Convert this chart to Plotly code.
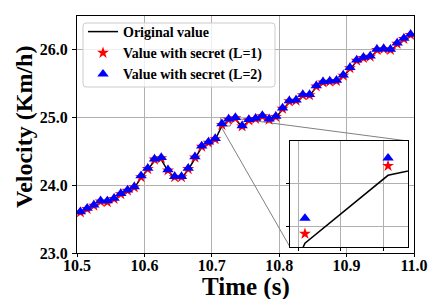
import plotly.graph_objects as go

# ---------------- data ----------------
TIME = [10.505, 10.515, 10.525, 10.535, 10.545, 10.555, 10.565, 10.575, 10.585, 10.595,
        10.605, 10.615, 10.625, 10.635, 10.645, 10.655, 10.665, 10.675, 10.685, 10.695,
        10.705, 10.715, 10.725, 10.735, 10.745, 10.755, 10.765, 10.775, 10.785, 10.795,
        10.805, 10.815, 10.825, 10.835, 10.845, 10.855, 10.865, 10.875, 10.885, 10.895,
        10.905, 10.915, 10.925, 10.935, 10.945, 10.955, 10.965, 10.975, 10.985, 10.995]

ORIGINAL = [23.59, 23.64, 23.68, 23.75, 23.74, 23.79, 23.86, 23.90, 23.96, 24.11,
            24.23, 24.36, 24.38, 24.21, 24.11, 24.10, 24.23, 24.39, 24.56, 24.61,
            24.67, 24.880, 24.959, 24.98, 24.86, 24.95, 24.97, 25.00, 24.96, 25.00,
            25.12, 25.22, 25.24, 25.31, 25.32, 25.45, 25.50, 25.52, 25.52, 25.61,
            25.71, 25.83, 25.86, 25.89, 25.98, 26.00, 25.99, 26.07, 26.15, 26.20]

SECRET_L1 = [23.60, 23.65, 23.70, 23.76, 23.75, 23.80, 23.87, 23.92, 23.97, 24.12,
             24.24, 24.38, 24.40, 24.22, 24.12, 24.12, 24.24, 24.41, 24.57, 24.63,
             24.68, 24.891, 24.970, 24.99, 24.87, 24.96, 24.98, 25.02, 24.97, 25.01,
             25.13, 25.24, 25.25, 25.33, 25.33, 25.46, 25.52, 25.53, 25.54, 25.62,
             25.73, 25.84, 25.88, 25.90, 26.00, 26.01, 26.00, 26.09, 26.16, 26.22]

SECRET_L2 = [23.61, 23.66, 23.71, 23.77, 23.77, 23.81, 23.88, 23.93, 23.98, 24.14,
             24.25, 24.39, 24.41, 24.23, 24.13, 24.13, 24.25, 24.42, 24.58, 24.64,
             24.69, 24.909, 24.979, 25.00, 24.88, 24.97, 24.99, 25.03, 24.98, 25.02,
             25.14, 25.25, 25.26, 25.34, 25.34, 25.47, 25.53, 25.54, 25.55, 25.63,
             25.74, 25.85, 25.89, 25.91, 26.01, 26.02, 26.01, 26.10, 26.17, 26.23]

X_TICKS = [10.5, 10.6, 10.7, 10.8, 10.9, 11.0]
Y_TICKS = [23.0, 24.0, 25.0, 26.0]
X_RANGE = [10.5, 11.0]
Y_RANGE = [23.0, 26.5]
INSET_X = [10.7132, 10.7274]
INSET_Y = [24.8756, 24.9989]

NAMES = ["Original value", "Value with secret (L=1)", "Value with secret (L=2)"]

# ---------------- layout helpers ----------------
W, H = 443, 299
L, R, T, B = 77, 414, 16, 253
PW, PH = R - L, B - T


def fx(px):
    return (px - L) / PW


def fy(py):
    return (B - py) / PH


INSET_DOM_X = [fx(290), fx(408)]
INSET_DOM_Y = [fy(247), fy(141)]


def mx(frac):
    return X_RANGE[0] + frac * (X_RANGE[1] - X_RANGE[0])


def my(frac):
    return Y_RANGE[0] + frac * (Y_RANGE[1] - Y_RANGE[0])


def rounded_box(x0, y0, x1, y1, r):
    """SVG path (paper coords) for a rounded rectangle given in pixels."""
    pts = [
        f"M {fx(x0 + r)},{fy(y0)}",
        f"L {fx(x1 - r)},{fy(y0)}",
        f"Q {fx(x1)},{fy(y0)} {fx(x1)},{fy(y0 + r)}",
        f"L {fx(x1)},{fy(y1 - r)}",
        f"Q {fx(x1)},{fy(y1)} {fx(x1 - r)},{fy(y1)}",
        f"L {fx(x0 + r)},{fy(y1)}",
        f"Q {fx(x0)},{fy(y1)} {fx(x0)},{fy(y1 - r)}",
        f"L {fx(x0)},{fy(y0 + r)}",
        f"Q {fx(x0)},{fy(y0)} {fx(x0 + r)},{fy(y0)}",
        "Z",
    ]
    return " ".join(pts)


FONT = "Liberation Serif, Times New Roman, serif"
GRID = "#b0b0b0"

fig = go.Figure()

for xa, ya, show in (("x", "y", True), ("x2", "y2", False)):
    fig.add_trace(go.Scatter(x=TIME, y=ORIGINAL, mode="lines", name=NAMES[0],
                             line=dict(color="black", width=1.5),
                             xaxis=xa, yaxis=ya, showlegend=show))
    fig.add_trace(go.Scatter(x=TIME, y=SECRET_L1, mode="markers", name=NAMES[1],
                             marker=dict(symbol="star", size=9, color="red",
                                         line=dict(width=0)),
                             xaxis=xa, yaxis=ya, showlegend=show))
    fig.add_trace(go.Scatter(x=TIME, y=SECRET_L2, mode="markers", name=NAMES[2],
                             marker=dict(symbol="triangle-up", size=10, color="blue",
                                         line=dict(width=0)),
                             xaxis=xa, yaxis=ya, showlegend=show))

shapes = [
    dict(type="rect", xref="x", yref="y", layer="between",
         x0=mx(INSET_DOM_X[0]), x1=mx(INSET_DOM_X[1]),
         y0=my(INSET_DOM_Y[0]), y1=my(INSET_DOM_Y[1]),
         fillcolor="white", line=dict(width=0)),
    dict(type="rect", xref="x", yref="y", layer="between",
         x0=INSET_X[0], x1=INSET_X[1], y0=INSET_Y[0], y1=INSET_Y[1],
         line=dict(color="#808080", width=1)),
    dict(type="line", xref="x", yref="y", layer="between",
         x0=INSET_X[1], y0=INSET_Y[1], x1=mx(INSET_DOM_X[1]), y1=my(INSET_DOM_Y[1]),
         line=dict(color="#808080", width=1)),
    dict(type="line", xref="x", yref="y", layer="between",
         x0=INSET_X[0], y0=INSET_Y[0], x1=mx(INSET_DOM_X[0]), y1=my(INSET_DOM_Y[0]),
         line=dict(color="#808080", width=1)),
    # legend frame
    dict(type="path", xref="paper", yref="paper", layer="above",
         path=rounded_box(83, 23, 275, 87, 3),
         fillcolor="rgba(255,255,255,0.8)", line=dict(color="#cccccc", width=1)),
]

axis_common = dict(showline=True, mirror=True, linecolor="black", linewidth=1,
                   showgrid=True, gridcolor=GRID, gridwidth=1, zeroline=False,
                   ticks="outside", tickcolor="black")

fig.update_layout(
    width=W, height=H,
    margin=dict(l=L, r=W - R, t=T, b=H - B, pad=0),
    paper_bgcolor="white", plot_bgcolor="white",
    font=dict(family=FONT, color="black"),
    xaxis=dict(domain=[0, 1], range=X_RANGE, tickvals=X_TICKS, tickformat=".1f",
               tickfont=dict(family=FONT, size=16, weight="bold"), anchor="y",
               ticklen=3, ticklabelstandoff=-5, **axis_common),
    yaxis=dict(domain=[0, 1], range=Y_RANGE, tickvals=Y_TICKS, tickformat=".1f",
               tickfont=dict(family=FONT, size=16, weight="bold"), anchor="x",
               ticklen=4, ticklabelstandoff=1, **axis_common),
    xaxis2=dict(domain=INSET_DOM_X, range=INSET_X, anchor="y2",
                tick0=10.7142, dtick=0.0051, showticklabels=False,
                ticklen=3, **axis_common),
    yaxis2=dict(domain=INSET_DOM_Y, range=INSET_Y, anchor="x2",
                tick0=24.9, dtick=0.05, showticklabels=False,
                ticklen=3, **axis_common),
    legend=dict(x=fx(83), y=fy(16), xanchor="left", yanchor="top",
                bgcolor="rgba(0,0,0,0)", borderwidth=0,
                font=dict(family=FONT, size=14, weight="bold"),
                itemwidth=30, tracegroupgap=0),
    shapes=shapes,
    annotations=[
        dict(text="Velocity (Km/h)", textangle=-90, x=fx(24), y=fy(127),
             xref="paper", yref="paper", xanchor="center", yanchor="middle",
             showarrow=False, font=dict(family=FONT, size=24, weight="bold")),
        dict(text="Time (s)", x=fx(245.5), y=fy(287),
             xref="paper", yref="paper", xanchor="center", yanchor="middle",
             showarrow=False, font=dict(family=FONT, size=25, weight="bold")),
    ],
)

fig.write_html("out.html", config={"displayModeBar": False},
               post_script="document.body.style.margin='0';")
